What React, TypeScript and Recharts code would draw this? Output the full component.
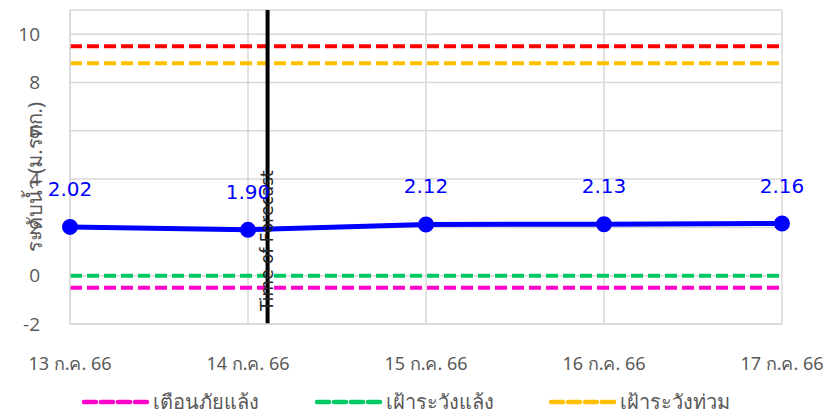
import React from 'react';
import { LineChart, Line, XAxis, YAxis, CartesianGrid, ReferenceLine, LabelList, Legend } from 'recharts';

// Water level readings (m. MSL)
const dates = ['13 ก.ค. 66', '14 ก.ค. 66', '15 ก.ค. 66', '16 ก.ค. 66', '17 ก.ค. 66'];
const levels = [2.02, 1.9, 2.12, 2.13, 2.16];
const yTicks = [-2, 0, 2, 4, 6, 8, 10];

// Threshold levels
const floodAlarm = 9.5;
const floodWatch = 8.8;
const droughtWatch = 0.0;
const droughtAlarm = -0.5;

// Forecast issue time, as a fractional day index
const forecastAt = 1.11;

const legendItems = [
  { label: 'เตือนภัยแล้ง', color: '#FF00CC' },
  { label: 'เฝ้าระวังแล้ง', color: '#00C862' },
  { label: 'เฝ้าระวังท่วม', color: '#FFC000' },
];

const chartData = dates.map((d, i) => ({ idx: i, date: d, level: levels[i] }));

const thaiFont = '"Noto Sans", "DejaVu Sans", sans-serif';
const gray = '#595959';

const LegendContent = () => (
  <div style={{ display: 'flex', paddingLeft: 82, height: 30, alignItems: 'center' }}>
    {legendItems.map((item) => (
      <div key={item.label} style={{ display: 'flex', alignItems: 'center', width: 256 }}>
        <svg width={68} height={10}>
          <line x1={2} y1={5} x2={66} y2={5} stroke={item.color} strokeWidth={4.5} strokeDasharray="12 5" strokeLinecap="round" />
        </svg>
        <span style={{ fontFamily: thaiFont, fontSize: 20, color: gray, marginLeft: 3 }}>{item.label}</span>
      </div>
    ))}
  </div>
);

const App: React.FC = () => {
  return (
    <div style={{ position: 'absolute', left: 0, top: 0, width: 834, height: 417, background: '#fff' }}>
      <LineChart width={834} height={417} data={chartData} margin={{ top: 10, right: 52, left: 0, bottom: 0 }}>
        <CartesianGrid stroke="#d9d9d9" strokeWidth={1.5} />
        <XAxis
          dataKey="idx"
          type="number"
          domain={[0, 4]}
          ticks={[0, 1, 2, 3, 4]}
          tickFormatter={(v: number) => dates[v]}
          stroke="#d9d9d9"
          strokeWidth={1.5}
          tickLine={false}
          tickMargin={27}
          height={63}
          tick={{ fill: gray, fontSize: 18, fontFamily: thaiFont }}
        />
        <YAxis
          domain={[-2, 11]}
          ticks={yTicks}
          stroke="#d9d9d9"
          strokeWidth={1.5}
          tickLine={false}
          tickMargin={24}
          width={70}
          tick={{ fill: gray, fontSize: 19, fontFamily: '"Open Sans", sans-serif' }}
          label={{
            content: () => (
              <text
                x={42}
                y={177}
                transform="rotate(-90 42 177)"
                textAnchor="middle"
                fill={gray}
                fontSize={20}
                fontFamily={thaiFont}
              >
                ระดับน้ำ (ม.รทก.)
              </text>
            ),
          }}
        />
        <Legend verticalAlign="bottom" content={<LegendContent />} />
        <ReferenceLine y={floodAlarm} stroke="#FF0000" strokeWidth={4} strokeDasharray="12 5" />
        <ReferenceLine y={floodWatch} stroke="#FFC000" strokeWidth={4} strokeDasharray="12 5" />
        <ReferenceLine y={droughtWatch} stroke="#00C862" strokeWidth={4} strokeDasharray="12 5" />
        <ReferenceLine y={droughtAlarm} stroke="#FF00CC" strokeWidth={4} strokeDasharray="12 5" />
        <Line
          dataKey="level"
          stroke="#0000FF"
          strokeWidth={5}
          dot={{ r: 5.5, fill: '#0000FF', stroke: '#0000FF' }}
          isAnimationActive={false}
        >
          <LabelList
            dataKey="level"
            position="top"
            offset={31}
            formatter={(v: number) => v.toFixed(2)}
            fill="#0000FF"
            fontSize={20}
            fontFamily='"DejaVu Sans", sans-serif'
          />
        </Line>
        <ReferenceLine
          x={forecastAt}
          stroke="#000"
          strokeWidth={4}
          label={{
            content: (props: any) => {
              const vb = props.viewBox || { x: 268, y: 10, height: 313 };
              const tx = vb.x + 5;
              const ty = vb.y + vb.height - 13;
              return (
                <text
                  x={tx}
                  y={ty}
                  transform={`rotate(-90 ${tx} ${ty})`}
                  textAnchor="start"
                  fill="#262626"
                  fontSize={17}
                  fontFamily='"DejaVu Sans", sans-serif'
                >
                  Time of Forecast
                </text>
              );
            },
          }}
        />
      </LineChart>
    </div>
  );
};

export default App;
